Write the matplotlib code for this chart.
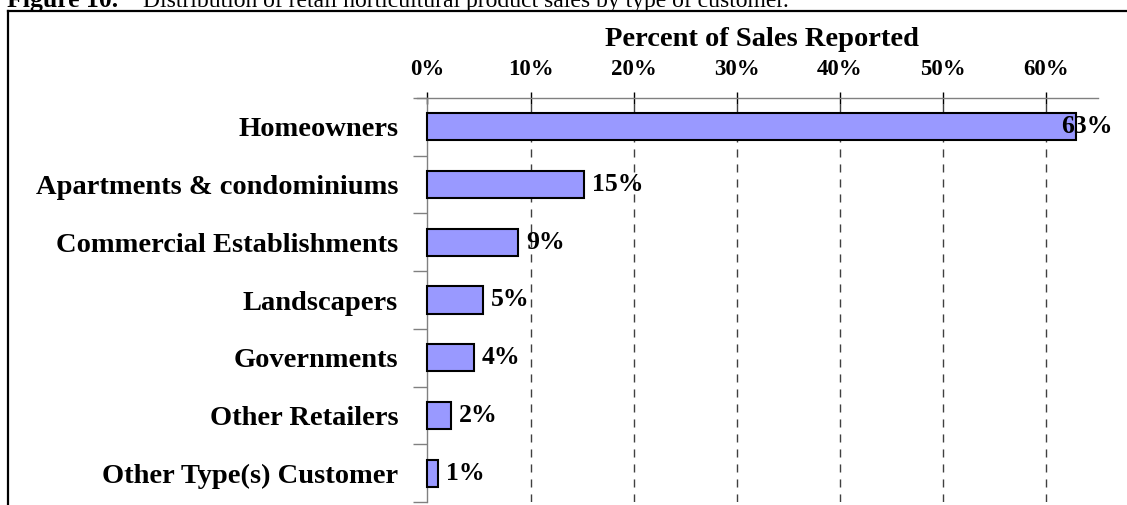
import matplotlib
matplotlib.use("Agg")
import matplotlib.pyplot as plt
from matplotlib.lines import Line2D
from matplotlib.ticker import FixedLocator

plt.rcParams['font.family'] = ['Liberation Serif', 'DejaVu Serif']
plt.rcParams['lines.scale_dashes'] = False

categories = ["Homeowners", "Apartments & condominiums", "Commercial Establishments",
              "Landscapers", "Governments", "Other Retailers", "Other Type(s) Customer"]
values = [62.9, 15.2, 8.8, 5.4, 4.5, 2.3, 1.0]
labels = ["63%", "15%", "9%", "5%", "4%", "2%", "1%"]
xticks = [0, 10, 20, 30, 40, 50, 60]
xtick_labels = ["0%", "10%", "20%", "30%", "40%", "50%", "60%"]

W, H = 1127, 505
fig = plt.figure(figsize=(W / 100, H / 100), dpi=100)

# axes box in pixels: left 417, right 1098, top 98, bottom 502
ax = fig.add_axes([417 / W, 1 - 502 / H, (1098 - 417) / W, (502 - 98) / H])
ypos = list(range(len(categories)))
ax.barh(ypos, values, height=0.47, color="#9999FF", edgecolor="black", linewidth=1.5, zorder=3)
ax.set_xlim(-1, 65)
ax.set_ylim(len(categories) - 0.5, -0.5)

for s in ["right", "bottom"]:
    ax.spines[s].set_visible(False)
ax.spines["left"].set_position(("data", 0))
ax.spines["left"].set_color("#808080")
ax.spines["top"].set_color("#808080")
ax.spines["left"].set_linewidth(1.0)
ax.spines["top"].set_linewidth(1.0)

ax.xaxis.tick_top()
ax.set_xticks(xticks)
ax.set_xticklabels(xtick_labels, fontsize=16.5, fontweight="bold")
ax.tick_params(axis="x", which="major", direction="inout", length=8, width=1.0,
               color="black", pad=9)

ax.set_yticks(ypos)
ax.set_yticklabels(categories, fontsize=20.5, fontweight="bold")
ax.tick_params(axis="y", which="major", length=0, pad=21)
ax.yaxis.set_minor_locator(FixedLocator([i - 0.5 for i in range(len(categories) + 1)]))
ax.tick_params(axis="y", which="minor", direction="out", length=10, width=1.0, color="#808080")

for x in xticks[1:]:
    ax.axvline(x, color="#404040", linewidth=1.0, linestyle=(0, (5.8, 5.0)), zorder=1)

# value labels
for y, v, t in zip(ypos, values, labels):
    if v > 60:
        ax.annotate(t, (v, y), xytext=(-15, 0), textcoords="offset pixels",
                    ha="left", va="center", fontsize=18.5, fontweight="bold", zorder=4)
    else:
        ax.annotate(t, (v, y), xytext=(8, 0), textcoords="offset pixels",
                    ha="left", va="center", fontsize=18.5, fontweight="bold", zorder=4)

# axis title
fig.text(762 / W, 1 - 39 / H, "Percent of Sales Reported", ha="center", va="center",
         fontsize=20.5, fontweight="bold")

# outer frame (cut off at right and bottom)
fig.add_artist(Line2D([8 / W, 8 / W], [0, 1 - 11 / H], transform=fig.transFigure,
                      color="black", linewidth=1.6, solid_capstyle="projecting"))
fig.add_artist(Line2D([8 / W, 1.01], [1 - 11 / H, 1 - 11 / H], transform=fig.transFigure,
                      color="black", linewidth=1.6, solid_capstyle="projecting"))

# cut-off figure caption
fig.text(7 / W, 1 - 7 / H, "Figure 10.", ha="left", va="baseline",
         fontsize=18.5, fontweight="bold")
fig.text(143 / W, 1 - 7 / H,
         "Distribution of retail horticultural product sales by type of customer.",
         ha="left", va="baseline", fontsize=17)

fig.savefig("out.png", dpi=100)
